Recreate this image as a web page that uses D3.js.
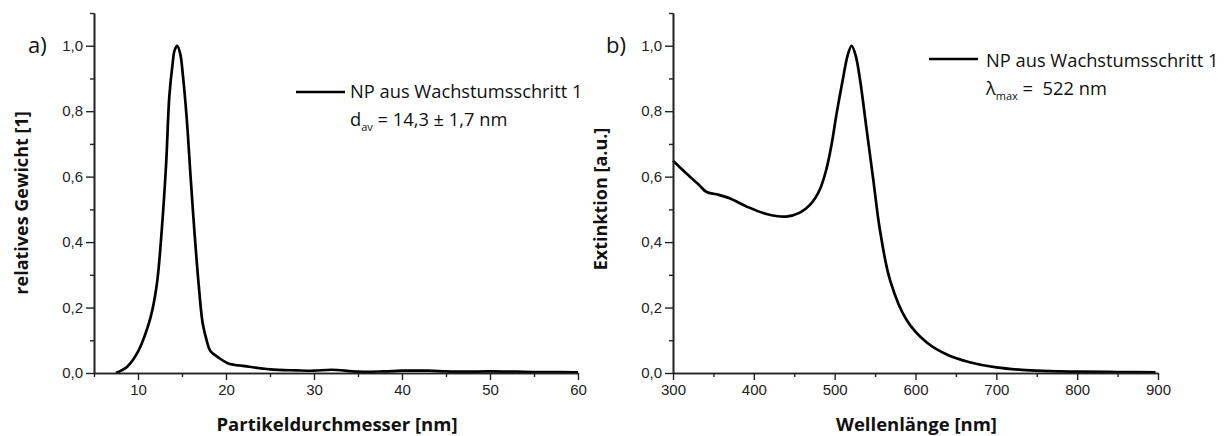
<!DOCTYPE html>
<html><head><meta charset="utf-8">
<script src="https://cdn.jsdelivr.net/npm/d3@7"></script>
<style>
body{margin:0;background:#fff;}
svg{display:block;}
</style></head>
<body>
<svg id="chart" width="1228" height="436"></svg>
<script>
// ---- Data ----
const sizeX = [7.5, 8.8, 10.0, 11.1, 11.65, 12.2, 12.7, 13.2, 13.56, 13.94, 14.15, 14.45, 14.8, 15.1, 15.53, 16.0, 16.4, 16.85, 17.35, 17.8, 18.2, 19.0, 20.2, 22.4, 25, 28, 30, 32, 35, 38, 40, 43, 45, 47, 50, 53, 55, 58, 60];
const sizeY = [0.0, 0.02, 0.065, 0.14, 0.195, 0.284, 0.437, 0.641, 0.845, 0.947, 0.985, 1.0, 0.975, 0.91, 0.78, 0.59, 0.437, 0.284, 0.152, 0.10, 0.068, 0.05, 0.03, 0.02, 0.011, 0.008, 0.007, 0.01, 0.004, 0.005, 0.007, 0.007, 0.005, 0.004, 0.005, 0.004, 0.003, 0.003, 0.002];

const waveX = [300, 310, 321, 332, 341.6, 354, 370, 391, 415.6, 440, 457, 470, 481.5, 490, 496.3, 502.5, 510.7, 516, 521, 526, 531.4, 539.6, 547.8, 556, 568.5, 589, 614, 640, 667, 700, 749, 802, 850, 897];
const waveY = [0.649, 0.625, 0.60, 0.575, 0.553, 0.546, 0.534, 0.509, 0.486, 0.478, 0.49, 0.515, 0.56, 0.625, 0.70, 0.794, 0.905, 0.97, 1.0, 0.97, 0.896, 0.743, 0.59, 0.437, 0.284, 0.162, 0.093, 0.055, 0.033, 0.017, 0.007, 0.004, 0.003, 0.002];

const yMajor = [0, 0.2, 0.4, 0.6, 0.8, 1.0];
const yMinor = [0.1, 0.3, 0.5, 0.7, 0.9, 1.1];
const xMajorA = [10, 20, 30, 40, 50, 60];
const xMinorA = [5, 15, 25, 35, 45, 55];
const xMajorB = [300, 400, 500, 600, 700, 800, 900];
const xMinorB = [350, 450, 550, 650, 750, 850];

const svg = d3.select("#chart");
const fmt = d => d3.format(".1f")(d).replace(".", ",");

function panel(cfg) {
  const x = d3.scaleLinear().domain(cfg.xDomain).range(cfg.xRange);
  const y = d3.scaleLinear().domain([0, 1.1]).range([373, 13]);
  const g = svg.append("g");
  // curve
  const pts = cfg.xs.map((v, i) => [v, cfg.ys[i]]);
  g.append("path").datum(pts)
    .attr("fill", "none").attr("stroke", "#000").attr("stroke-width", 2.7)
    .attr("stroke-linejoin", "round")
    .attr("d", d3.line().x(d => x(d[0])).y(d => y(d[1])).curve(d3.curveCatmullRom.alpha(0.5)));
  // axes
  const axStyle = sel => {
    sel.select(".domain").attr("stroke", "#222").attr("stroke-width", 1.6);
    sel.selectAll(".tick line").attr("stroke", "#222").attr("stroke-width", 1.4);
    sel.selectAll("text").attr("font-family", "'Liberation Sans', Arial, sans-serif").attr("font-size", 15).attr("fill", "#222");
  };
  g.append("g").attr("transform", `translate(${cfg.xRange[0]},0)`)
    .call(d3.axisLeft(y).tickValues(yMinor).tickSize(4).tickFormat("").tickSizeOuter(0))
    .call(axStyle);
  g.append("g").attr("transform", `translate(${cfg.xRange[0]},0)`)
    .call(d3.axisLeft(y).tickValues(yMajor).tickSize(8).tickPadding(3).tickFormat(fmt).tickSizeOuter(0))
    .call(axStyle);
  g.append("g").attr("transform", `translate(0,373)`)
    .call(d3.axisBottom(x).tickValues(cfg.xMinor).tickSize(4).tickFormat("").tickSizeOuter(0))
    .call(axStyle);
  g.append("g").attr("transform", `translate(0,373)`)
    .call(d3.axisBottom(x).tickValues(cfg.xMajor).tickSize(7).tickPadding(4).tickFormat(d3.format("d")).tickSizeOuter(0))
    .call(axStyle);
  // titles
  const ttl = "'Open Sans', sans-serif";
  g.append("text").attr("x", (cfg.xRange[0] + cfg.xRange[1]) / 2 + 1).attr("y", 431)
    .attr("text-anchor", "middle").attr("font-family", ttl).attr("font-weight", "bold")
    .attr("font-size", 18.5).attr("fill", "#111").text(cfg.xTitle);
  g.append("text").attr("transform", `translate(${cfg.yTitleX},${cfg.yTitleY}) rotate(-90)`)
    .attr("text-anchor", "middle").attr("font-family", ttl).attr("font-weight", "bold")
    .attr("font-size", 18).attr("fill", "#111").text(cfg.yTitle);
  g.append("text").attr("x", cfg.panelX).attr("y", 53).attr("font-family", ttl)
    .attr("font-size", 22).attr("fill", "#111").text(cfg.panelLabel);
  // legend
  const L = cfg.legend;
  g.append("line").attr("x1", L.x1).attr("x2", L.x2).attr("y1", L.y).attr("y2", L.y)
    .attr("stroke", "#000").attr("stroke-width", 2.7);
  g.append("text").attr("x", L.tx).attr("y", L.b1).attr("font-family", ttl)
    .attr("font-size", 18.3).attr("fill", "#111").text(L.line1);
  const t2 = g.append("text").attr("x", L.tx).attr("y", L.b2).attr("font-family", ttl)
    .attr("font-size", 18.3).attr("fill", "#111");
  t2.append("tspan").text(L.sym);
  t2.append("tspan").attr("dy", 5).attr("font-size", 11).text(L.sub);
  t2.append("tspan").attr("dy", -5).text(L.rest);
}

panel({
  xDomain: [5, 60], xRange: [94, 578], xs: sizeX, ys: sizeY,
  xMajor: xMajorA, xMinor: xMinorA,
  xTitle: "Partikeldurchmesser [nm]", yTitle: "relatives Gewicht [1]", yTitleX: 28, yTitleY: 203,
  panelLabel: "a)", panelX: 28,
  legend: {x1: 296, x2: 345, y: 92, tx: 350, b1: 98, b2: 126,
    line1: "NP aus Wachstumsschritt 1", sym: "d", sub: "av", rest: " = 14,3 ± 1,7 nm"}
});
panel({
  xDomain: [300, 900], xRange: [673, 1158], xs: waveX, ys: waveY,
  xMajor: xMajorB, xMinor: xMinorB,
  xTitle: "Wellenlänge [nm]", yTitle: "Extinktion [a.u.]", yTitleX: 607, yTitleY: 199,
  panelLabel: "b)", panelX: 606,
  legend: {x1: 929, x2: 978, y: 59, tx: 986, b1: 67, b2: 95,
    line1: "NP aus Wachstumsschritt 1", sym: "λ", sub: "max", rest: " =\u00a0 522 nm"}
});
</script>
</body></html>
